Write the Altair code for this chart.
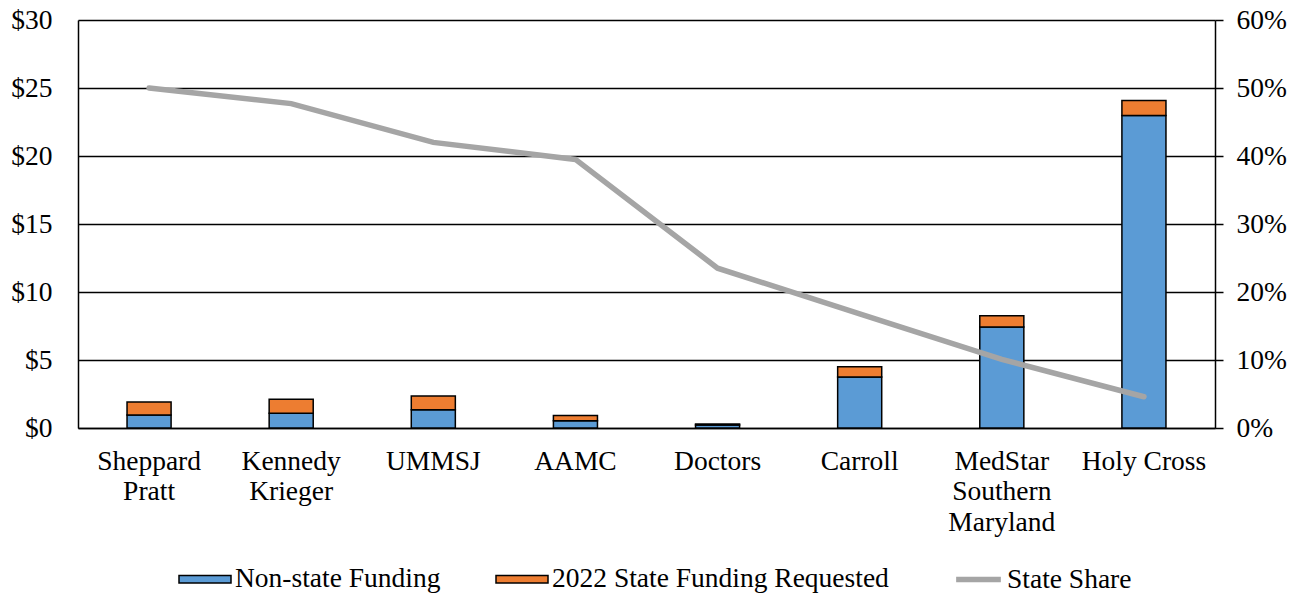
import altair as alt
import pandas as pd

categories = ["Sheppard Pratt", "Kennedy Krieger", "UMMSJ", "AAMC", "Doctors",
              "Carroll", "MedStar Southern Maryland", "Holy Cross"]
non_state = [0.96, 1.09, 1.35, 0.54, 0.22, 3.75, 7.43, 22.97]
state_req = [0.95, 1.02, 1.00, 0.37, 0.07, 0.76, 0.83, 1.11]
state_share = [0.500, 0.477, 0.420, 0.395, 0.235, 0.168, 0.101, 0.046]
bar_series = ["Non-state Funding", "2022 State Funding Requested"]
bar_colors = ["#5B9BD5", "#ED7D31"]
line_series = ["State Share"]
line_colors = ["#A5A5A5"]
left_ticks = [0, 5, 10, 15, 20, 25, 30]
right_ticks = [0, 0.1, 0.2, 0.3, 0.4, 0.5, 0.6]

rows = []
for c, a, b in zip(categories, non_state, state_req):
    rows.append({"cat": c, "series": bar_series[0], "value": a, "order": 0})
    rows.append({"cat": c, "series": bar_series[1], "value": b, "order": 1})
bars_df = pd.DataFrame(rows)
line_df = pd.DataFrame({"cat": categories, "share": state_share,
                        "lbl": [line_series[0]] * len(categories)})

FONT = "Liberation Serif"
FS = 27.5

x_enc = alt.X(
    "cat:N", sort=categories,
    scale=alt.Scale(paddingInner=0.69, paddingOuter=0.345),
    axis=alt.Axis(title=None, labelAngle=0, ticks=False, domainColor="black", domainWidth=1.5,
                  labelFont=FONT, labelFontSize=FS, labelColor="black", labelPadding=19,
                  labelLineHeight=30.5,
                  labelExpr="datum.value == 'Holy Cross' ? datum.value : split(datum.value, ' ')"),
)

bars = alt.Chart(bars_df).mark_bar(stroke="black", strokeWidth=1.5).encode(
    x=x_enc,
    y=alt.Y("value:Q", stack="zero",
            scale=alt.Scale(domain=[0, 30], nice=False, zero=True),
            axis=alt.Axis(title=None, values=left_ticks, format="$,.0f", grid=True,
                          gridColor="black", gridWidth=1.5, ticks=False,
                          domainColor="black", domainWidth=1.5,
                          labelFont=FONT, labelFontSize=FS, labelColor="black",
                          labelPadding=26)),
    fill=alt.Fill("series:N",
                  scale=alt.Scale(domain=bar_series, range=bar_colors),
                  legend=alt.Legend(
                      title=None, orient="none", legendX=100, legendY=532,
                      direction="horizontal",
                      labelFont=FONT, labelFontSize=FS, labelColor="black",
                      labelLimit=600,
                      symbolSize=2704, columnPadding=52, labelOffset=3,
                      symbolType="M-1,-0.14H1V0.14H-1Z", symbolStrokeColor="black",
                      symbolStrokeWidth=1.5, symbolOpacity=1)),
    order=alt.Order("order:Q"),
)

line = alt.Chart(line_df).mark_line(strokeWidth=5.5, strokeCap="round").encode(
    x=alt.X("cat:N", sort=categories),
    y=alt.Y("share:Q",
            scale=alt.Scale(domain=[0, 0.6], nice=False),
            axis=alt.Axis(title=None, orient="right", values=right_ticks, format=".0%",
                          grid=False, ticks=True, tickSize=8, tickColor="black", tickWidth=1.5,
                          domainColor="black", domainWidth=1.5,
                          labelFont=FONT, labelFontSize=FS, labelColor="black",
                          labelPadding=13)),
    stroke=alt.Stroke("lbl:N",
                      scale=alt.Scale(domain=line_series, range=line_colors),
                      legend=alt.Legend(
                          title=None, orient="none", legendX=875, legendY=534,
                          labelFont=FONT, labelFontSize=FS, labelColor="black",
                          labelLimit=600,
                          symbolType="stroke", symbolSize=2000, labelOffset=3,
                          symbolStrokeWidth=5.5)),
)

chart = alt.layer(bars, line).resolve_scale(y="independent").properties(
    width=1137, height=408,
    autosize=alt.AutoSizeParams(type="none"),
    padding={"left": 70, "top": 12, "right": 79, "bottom": 167},
).configure_view(stroke=None)

chart.save("out.html", embed_options={"renderer": "svg", "actions": False})
